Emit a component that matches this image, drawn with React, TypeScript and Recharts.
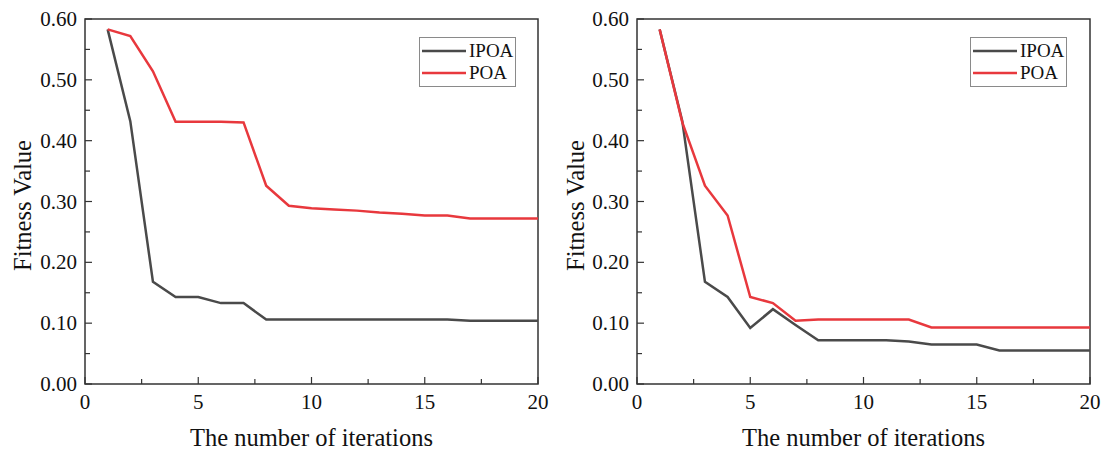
import React from 'react'
import { LineChart, Line, XAxis, YAxis, ReferenceArea, Legend } from 'recharts'

const iterations = [1, 2, 3, 4, 5, 6, 7, 8, 9, 10, 11, 12, 13, 14, 15, 16, 17, 18, 19, 20]

// left panel
const leftIPOA = [0.583, 0.432, 0.168, 0.143, 0.143, 0.133, 0.133, 0.106, 0.106, 0.106, 0.106, 0.106, 0.106, 0.106, 0.106, 0.106, 0.104, 0.104, 0.104, 0.104]
const leftPOA = [0.583, 0.572, 0.514, 0.431, 0.431, 0.431, 0.43, 0.326, 0.293, 0.289, 0.287, 0.285, 0.282, 0.28, 0.277, 0.277, 0.272, 0.272, 0.272, 0.272]

// right panel
const rightIPOA = [0.583, 0.432, 0.168, 0.143, 0.092, 0.123, 0.097, 0.072, 0.072, 0.072, 0.072, 0.07, 0.065, 0.065, 0.065, 0.055, 0.055, 0.055, 0.055, 0.055]
const rightPOA = [0.583, 0.43, 0.326, 0.277, 0.143, 0.133, 0.104, 0.106, 0.106, 0.106, 0.106, 0.106, 0.093, 0.093, 0.093, 0.093, 0.093, 0.093, 0.093, 0.093]

const xTicks = [0, 2.5, 5, 7.5, 10, 12.5, 15, 17.5, 20]
const yTicks = [0, 0.05, 0.1, 0.15, 0.2, 0.25, 0.3, 0.35, 0.4, 0.45, 0.5, 0.55, 0.6]

const FONT = '"Liberation Serif", "Times New Roman", serif'
const AXIS = '#333333'
const GRAY = '#4a4a4a'
const RED = '#e8383d'

const tickText = { fontFamily: FONT, fontSize: 21, fill: '#111' }
const titleText = { fontFamily: FONT, fontSize: 24.5, fill: '#111' }

function XTick(props: any) {
  const { x, y, payload } = props
  const v = payload.value
  const major = v % 5 === 0
  return (
    <g>
      <line x1={x} x2={x} y1={y} y2={y - (major ? 7 : 5)} stroke={AXIS} strokeWidth={1.2} />
      {major && (
        <text x={x} y={y + 25} textAnchor="middle" style={tickText}>
          {v}
        </text>
      )}
    </g>
  )
}

function YTick(props: any) {
  const { x, y, payload } = props
  const v = payload.value
  const major = Math.round(v * 100) % 10 === 0
  return (
    <g>
      <line x1={x} x2={x + (major ? 7 : 5)} y1={y} y2={y} stroke={AXIS} strokeWidth={1.2} />
      {major && (
        <text x={x - 8} y={y + 7} textAnchor="end" style={tickText}>
          {v.toFixed(2)}
        </text>
      )}
    </g>
  )
}

function LegendBox(props: any) {
  const items = props.payload || []
  return (
    <div
      style={{
        width: 97,
        height: 50,
        border: '1px solid #8a8a8a',
        background: '#fff',
        boxSizing: 'border-box',
        paddingTop: 2,
      }}
    >
      {items.map((it: any) => (
        <div key={it.value} style={{ display: 'flex', alignItems: 'center', height: 22 }}>
          <svg width={47} height={6} style={{ marginLeft: 2 }}>
            <line x1={0} x2={44} y1={3} y2={3} stroke={it.color} strokeWidth={2.5} />
          </svg>
          <span style={{ fontFamily: FONT, fontSize: 19, color: '#111', lineHeight: '22px' }}>{it.value}</span>
        </div>
      ))}
    </div>
  )
}

function Panel({ ipoa, poa, width, marginLeft, marginRight, legendLeft }: any) {
  const data = iterations.map((it, i) => ({ iter: it, IPOA: ipoa[i], POA: poa[i] }))
  return (
    <LineChart
      width={width}
      height={454}
      data={data}
      margin={{ top: 19, right: marginRight, bottom: 69, left: marginLeft - 1 }}
    >
      <XAxis
        type="number"
        dataKey="iter"
        domain={[0, 20]}
        ticks={xTicks}
        interval={0}
        tick={<XTick />}
        tickLine={false}
        axisLine={false}
        tickSize={0}
        tickMargin={0}
        height={1}
        label={{
          content: (p: any) => {
            const vb = p.viewBox
            return (
              <text x={vb.x + vb.width / 2} y={vb.y + 62} textAnchor="middle" style={titleText}>
                The number of iterations
              </text>
            )
          },
        }}
      />
      <YAxis
        type="number"
        domain={[0, 0.6]}
        ticks={yTicks}
        interval={0}
        tick={<YTick />}
        tickLine={false}
        axisLine={false}
        tickSize={0}
        tickMargin={0}
        width={1}
        label={{
          content: (p: any) => {
            const vb = p.viewBox
            const cx = vb.x + vb.width - marginLeft + 31
            const cy = vb.y + vb.height / 2 + 4
            return (
              <text x={cx} y={cy} transform={`rotate(-90 ${cx} ${cy})`} textAnchor="middle" style={titleText}>
                Fitness Value
              </text>
            )
          },
        }}
      />
      <ReferenceArea x1={0} x2={20} y1={0} y2={0.6} fill="none" stroke={AXIS} strokeWidth={1.5} />
      <Legend
        layout="horizontal"
        verticalAlign="middle"
        content={<LegendBox />}
        wrapperStyle={{ position: 'absolute', top: 37, left: legendLeft, width: 'auto' }}
      />
      <Line type="linear" dataKey="IPOA" name="IPOA" stroke={GRAY} strokeWidth={2.5} dot={false} isAnimationActive={false} />
      <Line type="linear" dataKey="POA" name="POA" stroke={RED} strokeWidth={2.5} dot={false} isAnimationActive={false} />
    </LineChart>
  )
}

export default function App() {
  return (
    <div style={{ position: 'absolute', left: 0, top: 0, width: 1107, height: 454, background: '#fff', display: 'flex' }}>
      <Panel ipoa={leftIPOA} poa={leftPOA} width={553} marginLeft={85} marginRight={15} legendLeft={419} />
      <Panel ipoa={rightIPOA} poa={rightPOA} width={554} marginLeft={84} marginRight={17} legendLeft={417} />
    </div>
  )
}
